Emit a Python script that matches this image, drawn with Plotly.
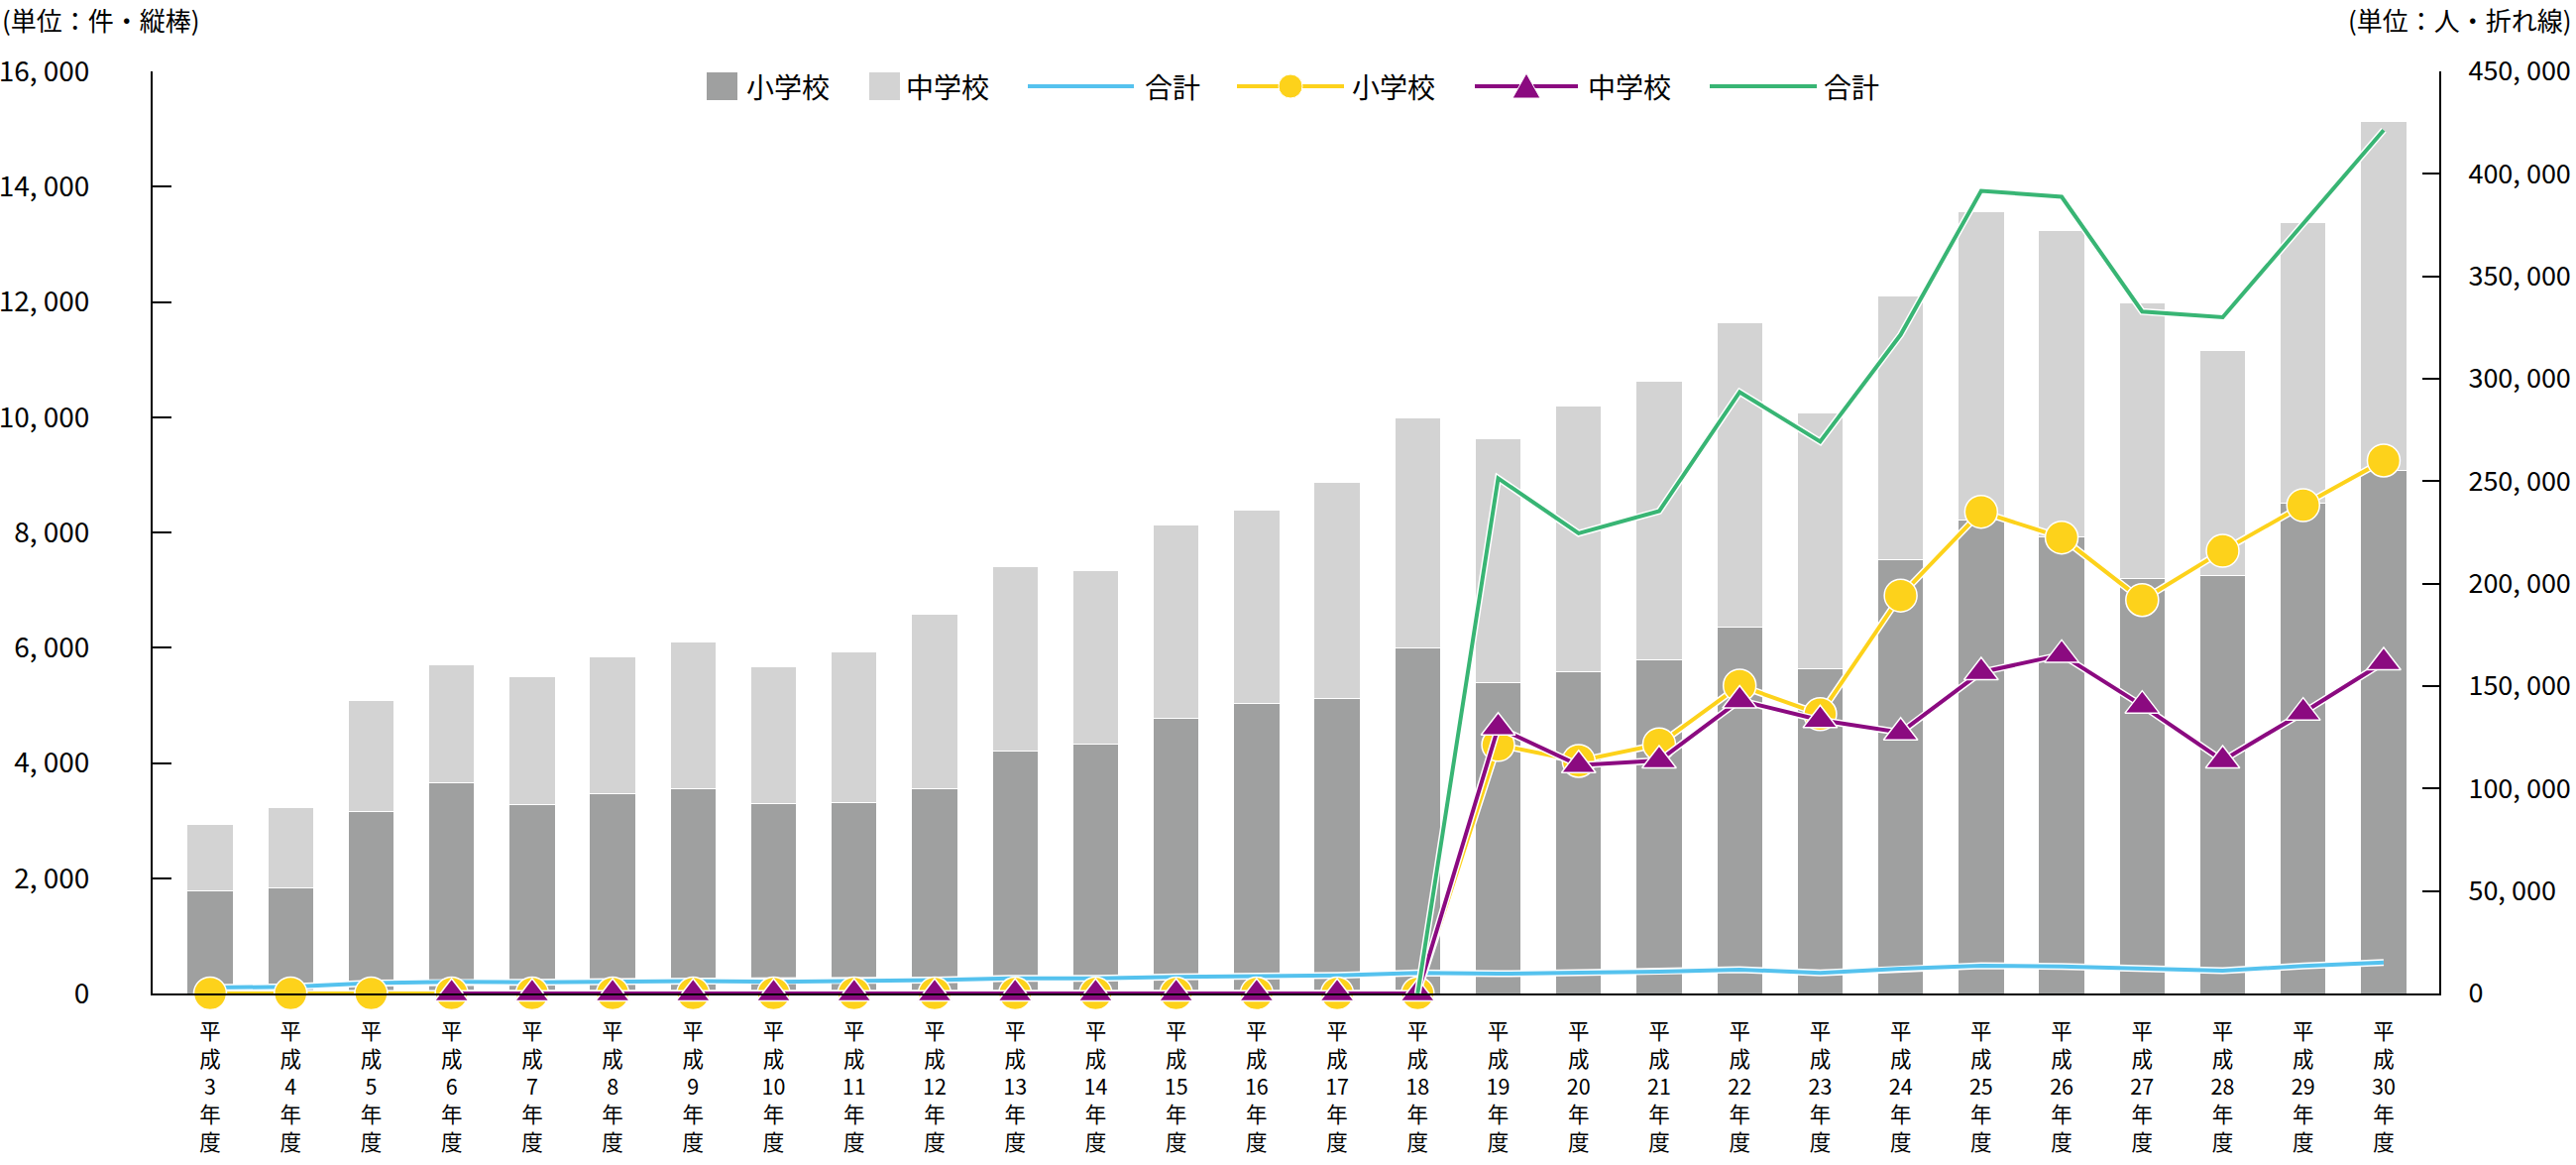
import plotly.graph_objects as go

# ---------------- data ----------------
years = list(range(3, 31))
categories = [f"平成{y}年度" for y in years]
tick_labels = [f"平<br>成<br>{y}<br>年<br>度" for y in years]

# bars (件, left axis)
elem_cases = [1780, 1840, 3160, 3650, 3270, 3470, 3560, 3290, 3320, 3560, 4210, 4320, 4770, 5030,
              5120, 5990, 5390, 5590, 5790, 6360, 5630, 7520, 8210, 7930, 7200, 7250, 8510, 9080]
junior_cases = [1150, 1380, 1920, 2050, 2230, 2370, 2540, 2380, 2600, 3020, 3200, 3010, 3360, 3360,
                3750, 3990, 4240, 4610, 4840, 5280, 4450, 4580, 5360, 5310, 4790, 3910, 4870, 6050]
# line 合計 (blue) drawn against right axis
total_cases = [2930, 3220, 5080, 5700, 5500, 5840, 6100, 5670, 5920, 6580, 7410, 7330, 8130, 8390,
               8870, 9980, 9630, 10200, 10630, 11640, 10080, 12100, 13570, 13240, 11990, 11160, 13380, 15130]

# lines (人, right axis)
elem_people = [0, 0, 0, 0, 0, 0, 0, 0, 0, 0, 0, 0, 0, 0, 0, 0,
               121300, 113500, 121600, 150300, 136300, 194200, 235100, 222500, 192000, 216000, 238300, 260100]
junior_people = [None, None, None, 0, 0, 0, 0, 0, 0, 0, 0, 0, 0, 0, 0, 0,
                 129800, 111400, 113700, 143000, 133400, 127400, 156800, 165300, 140500, 113700, 137100, 161600]
total_people = [None, None, None, None, None, None, None, None, None, None, None, None, None, None, None, 0,
                251400, 224600, 235400, 293500, 269300, 321500, 391700, 388800, 332800, 330000, 375700, 421300]

left_ticks = list(range(0, 16001, 2000))
right_ticks = list(range(0, 450001, 50000))

# ---------------- style ----------------
W, H = 2599, 1175
L, R, T, B = 154, 2461, 72, 1002
C_DARK = "#9FA0A0"
C_LIGHT = "#D3D3D3"
C_BLUE = "#55C2EE"
C_YEL = "#FDD21B"
C_PUR = "#8B0A80"
C_GRN = "#38B574"
NUMFONT = "Noto Sans CJK JP, sans-serif"
JPFONT = "Noto Sans CJK JP, sans-serif"


def fmt(v):
    return f"{v:,}".replace(",", ", ")


def pxx(x):
    return (x - L) / (R - L)


def pxy(y):
    return (B - y) / (B - T)


fig = go.Figure()
fig.add_bar(x=categories, y=elem_cases, name="小学校", showlegend=False,
            marker=dict(color=C_DARK, line=dict(color="white", width=1)))
fig.add_bar(x=categories, y=junior_cases, name="中学校", showlegend=False,
            marker=dict(color=C_LIGHT, line=dict(color="white", width=1)))


def add_line(vals, color, name, symbol=None, size=0):
    fig.add_scatter(x=categories, y=vals, yaxis="y2", mode="lines", showlegend=False,
                    line=dict(color="white", width=7), hoverinfo="skip", cliponaxis=False)
    mode = "lines+markers" if symbol else "lines"
    kw = {}
    if symbol:
        kw["marker"] = dict(symbol=symbol, size=size, color=color, line=dict(color="white", width=1.5))
    fig.add_scatter(x=categories, y=vals, yaxis="y2", mode=mode, name=name, showlegend=False,
                    line=dict(color=color, width=4), cliponaxis=False, **kw)


add_line(total_cases, C_BLUE, "合計")
add_line(elem_people, C_YEL, "小学校", "circle", 33)
add_line(junior_people, C_PUR, "中学校", "triangle-up", 30)
add_line(total_people, C_GRN, "合計")

# ---------------- manual legend ----------------
shapes = []
annotations = []
ly = 87
fs = 28


def ltext(x, s):
    annotations.append(dict(xref="paper", yref="paper", x=pxx(x), y=pxy(ly), text=s, showarrow=False,
                            xanchor="left", yanchor="middle", font=dict(family=JPFONT, size=fs, color="black")))


def lrect(x0, x1, color):
    shapes.append(dict(type="rect", xref="paper", yref="paper", x0=pxx(x0), x1=pxx(x1),
                       y0=pxy(ly + 14), y1=pxy(ly - 14), fillcolor=color, line=dict(width=0)))


def lline(x0, x1, color):
    shapes.append(dict(type="line", xref="paper", yref="paper", x0=pxx(x0), x1=pxx(x1),
                       y0=pxy(ly), y1=pxy(ly), line=dict(color=color, width=4)))


lrect(713, 744, C_DARK); ltext(751, "小学校")
lrect(877, 908, C_LIGHT); ltext(912, "中学校")
lline(1037, 1144, C_BLUE); ltext(1153, "合計")
lline(1248, 1356, C_YEL); ltext(1362, "小学校")
shapes.append(dict(type="circle", xref="paper", yref="paper", x0=pxx(1302 - 12), x1=pxx(1302 + 12),
                   y0=pxy(ly + 12), y1=pxy(ly - 12), fillcolor=C_YEL, line=dict(color="white", width=1)))
lline(1488, 1592, C_PUR); ltext(1600, "中学校")
cx = 1540
tri = (f"M {pxx(cx - 14)} {pxy(ly + 12)} L {pxx(cx + 14)} {pxy(ly + 12)} "
       f"L {pxx(cx)} {pxy(ly - 13)} Z")
shapes.append(dict(type="path", xref="paper", yref="paper", path=tri, fillcolor=C_PUR,
                   line=dict(color="white", width=1)))
lline(1725, 1833, C_GRN); ltext(1838, "合計")

# unit labels
annotations.append(dict(xref="paper", yref="paper", x=pxx(0), y=pxy(-1), text="(単位：件・縦棒)",
                        showarrow=False, xanchor="left", yanchor="top",
                        font=dict(family=JPFONT, size=26, color="black")))
annotations.append(dict(xref="paper", yref="paper", x=pxx(W - 2), y=pxy(-1), text="(単位：人・折れ線)",
                        showarrow=False, xanchor="right", yanchor="top",
                        font=dict(family=JPFONT, size=26, color="black")))

fig.update_layout(
    width=W, height=H, autosize=False,
    margin=dict(l=L, r=W - R, t=T, b=H - B, pad=0),
    paper_bgcolor="white", plot_bgcolor="white",
    barmode="stack", bargap=0.43,
    showlegend=False,
    shapes=shapes, annotations=annotations,
    xaxis=dict(type="category", range=[-0.714, 27.69], tickvals=categories, ticktext=tick_labels,
               showline=True, linecolor="black", linewidth=2, ticks="", showgrid=False, zeroline=False,
               automargin=False,
               tickfont=dict(family=NUMFONT, size=21.5, color="black"), ticklabelstandoff=18, tickangle=0),
    yaxis=dict(range=[0, 16000], tickvals=left_ticks, ticktext=[fmt(v) for v in left_ticks],
               showline=True, linecolor="black", linewidth=2, ticks="inside", ticklen=19, tickwidth=2,
               tickcolor="black", showgrid=False, zeroline=False, automargin=False,
               tickfont=dict(family=NUMFONT, size=28, color="black"), ticklabelstandoff=56),
    yaxis2=dict(range=[0, 450000], overlaying="y", side="right", tickvals=right_ticks,
                ticktext=[fmt(v) for v in right_ticks],
                showline=True, linecolor="black", linewidth=2, ticks="inside", ticklen=17, tickwidth=2,
                tickcolor="black", showgrid=False, zeroline=False, automargin=False,
                tickfont=dict(family=NUMFONT, size=27, color="black"), ticklabelstandoff=22),
)

fig.write_html("out.html")
